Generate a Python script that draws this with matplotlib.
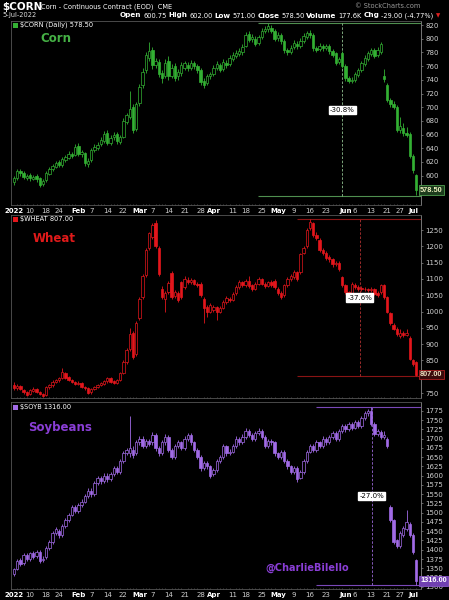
import matplotlib
matplotlib.use("Agg")
import matplotlib.pyplot as plt
from matplotlib.patches import Rectangle

W, H = 449, 600
BG = "black"

# x axis: trading-day index, 0 = 3-Jan-2022 ... 125 = 5-Jul-2022
tick_pos = [0, 5, 10, 14, 20, 24, 29, 34, 39, 43, 48, 53, 58, 62, 68, 72, 77,
            82, 87, 92, 97, 103, 106, 111, 116, 120, 124]
tick_lbl = ["2022", "10", "18", "24", "Feb", "7", "14", "22", "Mar", "7", "14",
            "21", "28", "Apr", "11", "18", "25", "May", "9", "16", "23", "Jun",
            "6", "13", "21", "27", "Jul"]
bold_lbl = {"2022", "Feb", "Mar", "Apr", "May", "Jun", "Jul"}

# right-axis price labels (the ones hidden behind the last-price box are left out)
corn_ticks = [600, 620, 640, 660, 680, 700, 720, 740, 760, 780, 800, 820]
wheat_ticks = [750, 850, 900, 950, 1000, 1050, 1100, 1150, 1200, 1250]
soy_ticks = [1300, 1325, 1350, 1375, 1400, 1425, 1450, 1475, 1500, 1525, 1550, 1575,
             1600, 1625, 1650, 1675, 1700, 1725, 1750, 1775]

# ---- corn ($CORN) daily OHLC ----
corn_open = [590, 596, 607, 604, 597, 601, 595, 599, 596, 588, 593, 603, 609, 613, 620, 615, 623, 626, 632, 630,
             643, 631, 633, 617, 623, 637, 641, 646, 651, 662, 647, 656, 661, 649, 657, 679, 686, 700, 668, 706,
             732, 755, 772, 784, 762, 766, 750, 745, 768, 746, 760, 745, 750, 758, 762, 758, 764, 760, 755, 738,
             735, 745, 748, 757, 762, 756, 765, 763, 770, 775, 778, 780, 790, 807, 799, 800, 794, 803, 811, 814,
             816, 812, 801, 805, 797, 783, 781, 788, 793, 790, 797, 803, 808, 805, 786, 785, 789, 786, 789, 782,
             779, 766, 779, 760, 742, 738, 740, 747, 754, 763, 771, 778, 783, 776, 781, 745, 733, 710, 705, 700,
             666, 670, 662, 661, 628, 600.75]
corn_high = [600, 609, 610, 606, 603, 604, 601, 602, 598, 595, 606, 613, 617, 622, 623, 627, 630, 636, 635, 646,
             648, 638, 635, 625, 641, 646, 649, 656, 665, 666, 659, 664, 663, 660, 684, 692, 723, 705, 708, 734,
             757, 780, 795, 788, 772, 770, 754, 770, 775, 763, 764, 756, 766, 768, 766, 769, 768, 763, 758, 742,
             749, 752, 762, 767, 765, 770, 769, 776, 780, 783, 786, 793, 810, 811, 807, 804, 806, 816, 819, 823,
             820, 815, 810, 808, 800, 786, 791, 798, 797, 801, 808, 812, 813, 808, 790, 794, 792, 793, 792, 785,
             781, 774, 782, 763, 745, 744, 751, 758, 767, 776, 782, 787, 786, 788, 796, 756, 736, 714, 709, 703,
             685, 677, 671, 664, 632, 602]
corn_low = [586, 594, 600, 595, 594, 592, 593, 591, 583, 585, 591, 601, 606, 611, 612, 613, 620, 624, 625, 628,
            629, 627, 614, 613, 620, 634, 638, 643, 648, 644, 644, 652, 646, 646, 655, 675, 683, 662, 665, 702,
            728, 750, 768, 756, 758, 744, 736, 742, 740, 742, 738, 740, 746, 754, 753, 755, 756, 750, 733, 728,
            732, 741, 745, 754, 751, 753, 758, 760, 767, 772, 775, 777, 788, 795, 796, 789, 791, 800, 808, 810,
            808, 797, 797, 793, 779, 776, 778, 785, 785, 787, 794, 800, 801, 782, 780, 782, 782, 783, 778, 773,
            762, 763, 757, 739, 735, 735, 737, 744, 751, 760, 768, 775, 772, 773, 778, 737, 707, 700, 697, 664,
            662, 658, 656, 625, 604, 571]
corn_close = [597, 606, 604, 598, 600, 596, 598, 595, 586, 592, 604, 610, 614, 619, 616, 624, 627, 631, 629, 642,
              632, 634, 618, 622, 638, 642, 645, 652, 661, 648, 655, 660, 650, 656, 680, 688, 697, 666, 705, 730,
              752, 776, 782, 762, 768, 748, 742, 765, 745, 758, 742, 752, 762, 764, 758, 765, 760, 755, 737, 733,
              745, 748, 758, 763, 755, 766, 762, 772, 776, 779, 782, 788, 806, 798, 803, 793, 802, 812, 815, 818,
              812, 800, 806, 797, 783, 780, 787, 794, 789, 797, 804, 808, 805, 786, 784, 790, 786, 789, 782, 777,
              765, 770, 760, 742, 738, 740, 748, 755, 764, 772, 779, 783, 775, 784, 793, 741, 710, 704, 700, 667,
              672, 662, 660, 628, 607.5, 578.5]

# ---- wheat ($WHEAT) daily OHLC ----
wheat_open = [775, 766, 772, 760, 752, 746, 757, 762, 752, 748, 743, 768, 774, 784, 789, 796, 812, 798, 790, 784,
              778, 781, 770, 765, 752, 762, 769, 775, 779, 786, 796, 786, 782, 790, 812, 845, 885, 934, 870, 980,
              1045, 1112, 1195, 1230, 1270, 1195, 1070, 1040, 1060, 1118, 1048, 1058, 1090, 1075, 1098, 1090, 1096,
              1085, 1085, 1040, 1015, 1000, 1005, 1015, 1000, 1012, 1028, 1040, 1035, 1056, 1075, 1090, 1080, 1095,
              1080, 1070, 1085, 1100, 1085, 1078, 1090, 1095, 1070, 1058, 1050, 1080, 1100, 1105, 1120, 1120, 1180,
              1200, 1255, 1270, 1235, 1220, 1190, 1180, 1168, 1160, 1145, 1150, 1105, 1080, 1060, 1050, 1082, 1075,
              1072, 1068, 1068, 1065, 1068, 1058, 1060, 1080, 1045, 995, 960, 948, 925, 935, 928, 920, 850, 845]
wheat_high = [785, 778, 776, 764, 756, 762, 768, 765, 757, 751, 771, 779, 789, 794, 799, 828, 816, 802, 794, 788,
              787, 784, 773, 768, 766, 772, 779, 784, 790, 799, 800, 790, 794, 816, 850, 887, 950, 940, 970, 1045,
              1115, 1195, 1245, 1270, 1280, 1200, 1078, 1064, 1094, 1124, 1066, 1063, 1095, 1108, 1106, 1104, 1100,
              1090, 1090, 1045, 1020, 1026, 1020, 1018, 1016, 1035, 1048, 1044, 1060, 1080, 1098, 1094, 1100, 1110,
              1086, 1090, 1106, 1104, 1090, 1095, 1096, 1100, 1074, 1062, 1085, 1106, 1116, 1126, 1125, 1180, 1200,
              1256, 1284, 1276, 1245, 1224, 1196, 1186, 1172, 1165, 1156, 1154, 1110, 1085, 1064, 1090, 1088, 1080,
              1078, 1076, 1072, 1074, 1072, 1062, 1085, 1084, 1048, 1000, 966, 952, 945, 940, 945, 925, 856, 848]
wheat_low = [758, 760, 758, 748, 741, 743, 754, 749, 744, 738, 740, 764, 770, 780, 785, 792, 793, 786, 781, 774,
             775, 766, 761, 746, 748, 759, 765, 771, 776, 782, 781, 778, 779, 787, 808, 840, 878, 855, 865, 975,
             1040, 1105, 1188, 1222, 1195, 1108, 1038, 1000, 1055, 1040, 1042, 1028, 1040, 1070, 1086, 1085, 1080,
             1074, 1046, 965, 984, 995, 998, 975, 996, 1008, 1024, 1030, 1031, 1052, 1070, 1074, 1076, 1072,
             1064, 1066, 1080, 1080, 1072, 1074, 1075, 1070, 1052, 1040, 1046, 1076, 1095, 1100, 1094, 1115, 1175,
             1195, 1250, 1228, 1218, 1184, 1172, 1158, 1152, 1138, 1140, 1124, 1074, 1054, 1030, 1046, 1070, 1064,
             1062, 1062, 1060, 1060, 1050, 1045, 1055, 1040, 995, 960, 942, 925, 920, 922, 924, 850, 832, 802]
wheat_close = [765, 772, 762, 752, 745, 758, 763, 752, 748, 742, 768, 775, 785, 790, 795, 815, 797, 790, 785, 778,
               782, 770, 765, 750, 762, 768, 775, 780, 786, 795, 785, 782, 790, 812, 845, 882, 930, 862, 965, 1040,
               1110, 1190, 1240, 1265, 1200, 1115, 1045, 1058, 1088, 1045, 1060, 1035, 1045, 1100, 1092, 1098, 1085,
               1080, 1052, 1012, 1000, 1020, 1015, 1000, 1010, 1030, 1042, 1035, 1055, 1075, 1090, 1080, 1095, 1078,
               1070, 1085, 1100, 1085, 1078, 1090, 1080, 1075, 1058, 1045, 1080, 1100, 1110, 1120, 1100, 1175, 1195,
               1250, 1275, 1235, 1225, 1190, 1180, 1165, 1160, 1145, 1150, 1130, 1080, 1060, 1045, 1085, 1075, 1070,
               1068, 1070, 1065, 1070, 1055, 1050, 1080, 1045, 1000, 965, 948, 930, 935, 928, 935, 855, 838, 807]

# ---- soybeans ($SOYB) daily OHLC ----
soy_open = [1335, 1348, 1372, 1365, 1385, 1375, 1390, 1382, 1395, 1372, 1380, 1405, 1420, 1445, 1450, 1440, 1465,
            1480, 1495, 1515, 1505, 1520, 1530, 1545, 1560, 1550, 1580, 1595, 1585, 1600, 1590, 1605, 1620, 1610,
            1640, 1660, 1660, 1670, 1660, 1690, 1700, 1680, 1695, 1690, 1710, 1675, 1660, 1690, 1705, 1670, 1650,
            1680, 1690, 1675, 1700, 1710, 1690, 1670, 1650, 1620, 1635, 1625, 1605, 1615, 1640, 1650, 1680, 1660,
            1665, 1680, 1700, 1690, 1705, 1720, 1710, 1700, 1715, 1720, 1705, 1680, 1695, 1690, 1660, 1650, 1665,
            1640, 1625, 1610, 1620, 1595, 1610, 1640, 1665, 1680, 1670, 1690, 1680, 1700, 1690, 1705, 1715, 1700,
            1720, 1735, 1725, 1740, 1730, 1745, 1735, 1755, 1768, 1775, 1740, 1712, 1718, 1705, 1700, 1515, 1480,
            1425, 1410, 1440, 1455, 1470, 1440, 1372]
soy_high = [1352, 1374, 1378, 1390, 1392, 1395, 1396, 1400, 1398, 1382, 1410, 1426, 1450, 1462, 1456, 1470, 1486,
            1500, 1520, 1522, 1526, 1536, 1550, 1566, 1566, 1586, 1600, 1600, 1606, 1606, 1610, 1626, 1626, 1646,
            1666, 1676, 1760, 1680, 1696, 1706, 1708, 1700, 1700, 1718, 1714, 1680, 1696, 1712, 1710, 1675, 1686,
            1696, 1695, 1706, 1716, 1714, 1694, 1675, 1655, 1640, 1640, 1630, 1620, 1646, 1656, 1686, 1684, 1672,
            1686, 1706, 1705, 1712, 1728, 1726, 1715, 1722, 1730, 1725, 1710, 1700, 1700, 1695, 1665, 1670, 1670,
            1645, 1630, 1626, 1625, 1616, 1646, 1670, 1686, 1685, 1696, 1695, 1706, 1705, 1710, 1722, 1720, 1726,
            1740, 1740, 1746, 1745, 1750, 1750, 1762, 1774, 1780, 1786, 1745, 1726, 1724, 1722, 1704, 1520, 1484,
            1430, 1450, 1465, 1507, 1476, 1444, 1376]
soy_low = [1328, 1344, 1356, 1360, 1370, 1370, 1374, 1378, 1364, 1366, 1376, 1400, 1415, 1440, 1432, 1435, 1460,
           1475, 1490, 1498, 1500, 1515, 1525, 1540, 1542, 1545, 1575, 1578, 1580, 1584, 1585, 1600, 1604, 1605,
           1635, 1655, 1650, 1648, 1655, 1684, 1674, 1675, 1680, 1684, 1668, 1654, 1655, 1684, 1664, 1644, 1645,
           1675, 1670, 1670, 1695, 1684, 1664, 1644, 1614, 1615, 1618, 1594, 1598, 1610, 1635, 1645, 1654, 1655,
           1660, 1675, 1684, 1685, 1700, 1704, 1694, 1695, 1710, 1698, 1674, 1675, 1684, 1654, 1644, 1645, 1634,
           1618, 1604, 1605, 1582, 1590, 1605, 1635, 1660, 1664, 1665, 1674, 1675, 1684, 1685, 1700, 1694, 1695,
           1715, 1719, 1720, 1724, 1725, 1729, 1730, 1750, 1762, 1735, 1706, 1706, 1700, 1698, 1674, 1475, 1415,
           1404, 1405, 1435, 1450, 1435, 1388, 1305]
soy_close = [1348, 1370, 1362, 1385, 1375, 1390, 1380, 1395, 1370, 1375, 1405, 1420, 1445, 1455, 1440, 1465, 1480,
             1495, 1515, 1505, 1520, 1530, 1545, 1560, 1550, 1580, 1595, 1585, 1600, 1590, 1605, 1620, 1610, 1640,
             1660, 1670, 1675, 1655, 1690, 1700, 1680, 1695, 1685, 1710, 1675, 1660, 1690, 1705, 1670, 1650, 1680,
             1690, 1675, 1700, 1710, 1690, 1670, 1650, 1620, 1635, 1625, 1600, 1615, 1640, 1650, 1680, 1660, 1665,
             1680, 1700, 1690, 1705, 1720, 1710, 1700, 1715, 1720, 1705, 1680, 1695, 1690, 1660, 1650, 1665, 1640,
             1625, 1610, 1620, 1590, 1610, 1640, 1665, 1680, 1670, 1690, 1680, 1700, 1690, 1705, 1715, 1700, 1720,
             1735, 1725, 1740, 1730, 1745, 1735, 1755, 1768, 1775, 1740, 1712, 1720, 1705, 1710, 1680, 1480, 1420,
             1410, 1445, 1460, 1475, 1440, 1395, 1316]

# drawdown markers: (line start idx, high, low, dashed idx, label y, label)
corn_dd = (75.8, 823, 570, 102, 696, "-30.8%")
wheat_dd = (87.9, 1284, 801, 107.5, 1043, "-37.6%")
soy_dd = (93.8, 1786, 1304, 111.2, 1545, "-27.0%")

header_fields = [("Open", True), ("600.75", False), ("High", True), ("602.00", False),
                 ("Low", True), ("571.00", False), ("Close", True), ("578.50", False),
                 ("Volume", True), ("177.6K", False), ("Chg", True), ("-29.00 (-4.77%)", False)]

GREEN, RED, PURPLE = "#33b033", "#e3161c", "#a16be6"
LBL = "#cfcfcf"

fig = plt.figure(figsize=(W / 100, H / 100), dpi=100, facecolor=BG)


def draw_candles(ax, o, h, l, c, color, min_body):
    for i in range(len(c)):
        lo, hi = min(o[i], c[i]), max(o[i], c[i])
        ax.vlines(i, l[i], h[i], color=color, lw=0.6, zorder=2)
        face = color if c[i] < o[i] else BG
        ax.add_patch(Rectangle((i - 0.37, lo), 0.74, max(hi - lo, min_body),
                               facecolor=face, edgecolor=color, lw=0.5, zorder=3))


def make_panel(top, bottom, ylim, yticks, show_x):
    ax = fig.add_axes([11 / W, 1 - bottom / H, 410 / W, (bottom - top) / H])
    ax.set_facecolor(BG)
    ax.set_xlim(-0.93, 126.5)
    ax.set_ylim(*ylim)
    for s in ax.spines.values():
        s.set_color("#555555")
        s.set_linewidth(0.6)
    ax.spines["right"].set_color("#888888")
    ax.yaxis.tick_right()
    ax.set_yticks(yticks)
    ax.tick_params(axis="y", colors="#888888", labelcolor=LBL, labelsize=5, length=1.5, pad=1.5, width=0.5)
    ax.set_xticks(tick_pos)
    ax.set_xticks(range(126), minor=True)
    ax.tick_params(axis="x", which="minor", length=1, width=0.4, colors="#777777", direction="in")
    ax.tick_params(axis="x", which="major", length=0, pad=2.5, labelsize=5, labelcolor=LBL)
    if show_x:
        ax.set_xticklabels(tick_lbl)
        for t in ax.get_xticklabels():
            if t.get_text() in bold_lbl:
                t.set_fontweight("bold")
                t.set_color("white")
    else:
        ax.set_xticklabels([])
    return ax


def drawdown(ax, dd, line_col, dash_col):
    x0, hi, lo, xd, ylab, txt = dd
    ax.hlines([hi, lo], x0, 126.5, color=line_col, lw=0.8, zorder=1)
    ax.vlines(xd, lo, hi, color=dash_col, lw=0.6, linestyles=(0, (3, 2)), zorder=1)
    ax.text(xd, ylab, txt, fontsize=5, ha="center", va="center", color="black", zorder=6,
            bbox=dict(boxstyle="square,pad=0.15", fc="white", ec="white"))


def price_box(ax, value, txt, edge, face, tc):
    ax.annotate(txt, xy=(0.998, value), xycoords=ax.get_yaxis_transform(), fontsize=5.3,
                family="Liberation Sans", fontweight="bold", color=tc, va="center", ha="left",
                annotation_clip=False, zorder=10,
                bbox=dict(boxstyle="square,pad=0.2", fc=face, ec=edge, lw=0.6))


# corn
ax1 = make_panel(21, 205, (557, 826), corn_ticks, True)
draw_candles(ax1, corn_open, corn_high, corn_low, corn_close, GREEN, 1.0)
drawdown(ax1, corn_dd, "#4f8f4f", "#8fbf8f")
price_box(ax1, corn_close[-1], "578.50", "#4f9f4f", "#1d3d1d", "#f0f0c0")

# wheat
ax2 = make_panel(215, 398, (735, 1296), wheat_ticks, False)
draw_candles(ax2, wheat_open, wheat_high, wheat_low, wheat_close, RED, 2.0)
drawdown(ax2, wheat_dd, "#8a1414", "#b03030")
price_box(ax2, wheat_close[-1], "807.00", "#b02020", "#3a0c0c", "#f0e0c0")

# soybeans
ax3 = make_panel(402, 589, (1294, 1799), soy_ticks, True)
draw_candles(ax3, soy_open, soy_high, soy_low, soy_close, PURPLE, 1.5)
drawdown(ax3, soy_dd, "#7a48b8", "#9a68d8")
price_box(ax3, soy_close[-1], "1316.00", "#8a58c8", "#7040b0", "white")

# overlay for free text, in pixel coordinates
ov = fig.add_axes([0, 0, 1, 1])
ov.set_xlim(0, W)
ov.set_ylim(H, 0)
ov.axis("off")

ov.text(2, 7.5, "$CORN", fontsize=7.5, fontweight="bold", color="white", va="center")
ov.text(41, 7, "Corn - Continuous Contract (EOD)  CME", fontsize=4.8, color="white", va="center")
ov.text(420, 6, "© StockCharts.com", fontsize=4.8, color="#999999", va="center", ha="right")
ov.text(2, 15.5, "5-Jul-2022", fontsize=4.8, color="#dddddd", va="center")
prev = ov.text(120, 15.5, header_fields[0][0], fontsize=5.2, fontweight="bold", color="white", va="center")
for s, b in header_fields[1:]:
    prev = ov.annotate(s, xy=(1, 0.5), xycoords=prev, xytext=(1.3, 0), textcoords="offset points",
                       fontsize=5.2 if b else 4.8, fontweight="bold" if b else "normal",
                       color="white", va="center")
ov.annotate("▼", xy=(1, 0.5), xycoords=prev, xytext=(1.5, 0), textcoords="offset points",
            fontsize=4, color="#e02020", va="center")

# panel legends
for y, col, txt in [(25, GREEN, "$CORN (Daily) 578.50"), (219, RED, "$WHEAT 807.00"),
                    (407, PURPLE, "$SOYB 1316.00")]:
    ov.add_patch(Rectangle((12.5, y - 2.5), 5, 5, facecolor=col, edgecolor="none"))
    ov.text(20, y, txt, fontsize=4.8, color="white", va="center")

ov.text(40, 39, "Corn", fontsize=8.5, fontweight="bold", color="#45b045", va="center")
ov.text(33, 238, "Wheat", fontsize=8.5, fontweight="bold", color="#e01a1a", va="center")
ov.text(28, 428, "Soybeans", fontsize=8.5, fontweight="bold", color="#8a3ed6", va="center")
ov.text(307, 568, "@CharlieBilello", fontsize=7, fontweight="bold", color="#8a3ed6", va="center", ha="center")

fig.savefig("out.png", dpi=100, facecolor=BG)
